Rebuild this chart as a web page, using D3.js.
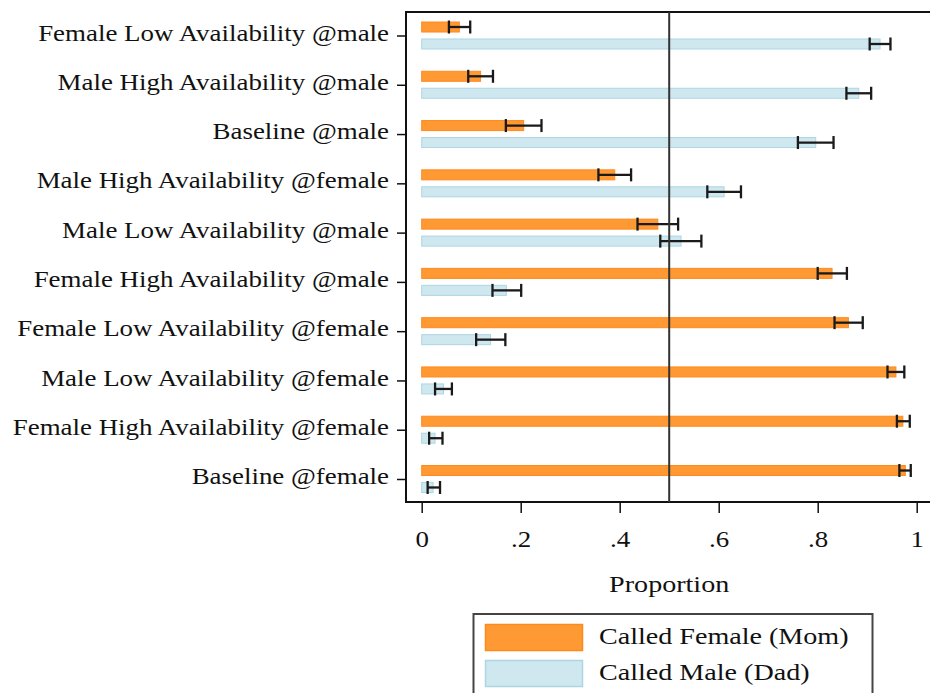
<!DOCTYPE html>
<html>
<head>
<meta charset="utf-8">
<script src="https://cdn.jsdelivr.net/npm/d3@7"></script>
<style>
  html, body { margin: 0; padding: 0; background: #fff; }
  svg { display: block; }
  text { font-family: "Liberation Serif", "DejaVu Serif", serif; fill: #111; }
</style>
</head>
<body>
<svg id="chart" width="930" height="693"></svg>
<script>
// Conditions, top to bottom
const categories = [
  "Female Low Availability @male",
  "Male High Availability @male",
  "Baseline @male",
  "Male High Availability @female",
  "Male Low Availability @male",
  "Female High Availability @male",
  "Female Low Availability @female",
  "Male Low Availability @female",
  "Female High Availability @female",
  "Baseline @female"
];

// Share calling the female parent (Mom), with 95% CI
const momValue = [0.076, 0.119, 0.206, 0.390, 0.477, 0.829, 0.862, 0.958, 0.972, 0.977];
const momLow   = [0.055, 0.094, 0.170, 0.357, 0.436, 0.800, 0.834, 0.941, 0.960, 0.965];
const momHigh  = [0.098, 0.144, 0.242, 0.423, 0.518, 0.859, 0.891, 0.975, 0.986, 0.988];

// Share calling the male parent (Dad), with 95% CI
const dadValue = [0.926, 0.883, 0.796, 0.611, 0.524, 0.171, 0.139, 0.044, 0.027, 0.023];
const dadLow   = [0.905, 0.858, 0.760, 0.577, 0.482, 0.143, 0.110, 0.027, 0.015, 0.012];
const dadHigh  = [0.947, 0.908, 0.832, 0.645, 0.565, 0.201, 0.169, 0.061, 0.042, 0.037];

const xTicks = [0, 0.2, 0.4, 0.6, 0.8, 1];
const xTickLabels = ["0", ".2", ".4", ".6", ".8", "1"];
const referenceLine = 0.5;

const seriesKeys = ["mom", "dad"];
const seriesNames = ["Called Female (Mom)", "Called Male (Dad)"];
const seriesFill = { mom: "#ff9933", dad: "#cfe7ef" };
const seriesStroke = { mom: "#ff8a1c", dad: "#acd6e3" };

// Widen the serif glyphs a little for a rounder, book-like face
const textStretch = 1.17;
function widen(sel) {
  sel.each(function () {
    const w = this.getComputedTextLength();
    d3.select(this)
      .attr("textLength", w * textStretch)
      .attr("lengthAdjust", "spacingAndGlyphs");
  });
}

const svg = d3.select("#chart");

const frame = { left: 406, top: 12, right: 940, bottom: 502 };

const x = d3.scaleLinear().domain([0, 1]).range([421.7, 916.7]);
const y = d3.scalePoint().domain(categories).range([35.5, 479]);
const sub = d3.scaleBand().domain(seriesKeys).range([-13.5, 13.5]).paddingInner(0.41);

const rows = categories.map((c, i) => ({
  cat: c,
  series: [
    { key: "mom", v: momValue[i], lo: momLow[i], hi: momHigh[i] },
    { key: "dad", v: dadValue[i], lo: dadLow[i], hi: dadHigh[i] }
  ]
}));

// Plot frame
svg.append("rect")
  .attr("x", frame.left).attr("y", frame.top)
  .attr("width", frame.right - frame.left).attr("height", frame.bottom - frame.top)
  .attr("fill", "none").attr("stroke", "#111").attr("stroke-width", 2);

// Bars
const groups = svg.append("g").selectAll("g.row")
  .data(rows).join("g")
  .attr("class", "row")
  .attr("transform", d => `translate(0,${y(d.cat)})`);

groups.selectAll("rect.bar")
  .data(d => d.series).join("rect")
  .attr("class", "bar")
  .attr("x", x(0))
  .attr("y", d => sub(d.key))
  .attr("width", d => x(d.v) - x(0))
  .attr("height", sub.bandwidth())
  .attr("fill", d => seriesFill[d.key])
  .attr("stroke", d => seriesStroke[d.key])
  .attr("stroke-width", 1);

// Reference line at one half
svg.append("line")
  .attr("x1", x(referenceLine)).attr("x2", x(referenceLine))
  .attr("y1", frame.top).attr("y2", frame.bottom)
  .attr("stroke", "#333").attr("stroke-width", 2);

// Confidence intervals
const ci = groups.selectAll("g.ci")
  .data(d => d.series).join("g")
  .attr("class", "ci")
  .attr("transform", d => `translate(0,${sub(d.key) + sub.bandwidth() / 2})`)
  .attr("stroke", "#1a1a1a").attr("stroke-width", 2.3);

ci.append("line")
  .attr("x1", d => x(d.lo)).attr("x2", d => x(d.hi))
  .attr("y1", 0).attr("y2", 0);
ci.append("line")
  .attr("x1", d => x(d.lo)).attr("x2", d => x(d.lo))
  .attr("y1", -6.5).attr("y2", 6.5);
ci.append("line")
  .attr("x1", d => x(d.hi)).attr("x2", d => x(d.hi))
  .attr("y1", -6.5).attr("y2", 6.5);

// Category axis
const yAxis = svg.append("g")
  .attr("transform", `translate(${frame.left},0)`)
  .call(d3.axisLeft(y).tickSize(9).tickPadding(8));
yAxis.select(".domain").remove();
yAxis.selectAll(".tick line").attr("stroke", "#111").attr("stroke-width", 1.5);
yAxis.selectAll(".tick text")
  .attr("font-size", 23)
  .attr("dy", "0.2em")
  .attr("fill", "#111")
  .call(widen);

// Value axis
const xAxis = svg.append("g")
  .attr("transform", `translate(0,${frame.bottom})`)
  .call(d3.axisBottom(x).tickValues(xTicks)
    .tickFormat((d, i) => xTickLabels[i]).tickSize(11).tickPadding(18));
xAxis.select(".domain").remove();
xAxis.selectAll(".tick line").attr("stroke", "#111").attr("stroke-width", 1.5);
xAxis.selectAll(".tick text").attr("font-size", 23).attr("fill", "#111").call(widen);

svg.append("text")
  .attr("x", x(0.5)).attr("y", 592)
  .attr("text-anchor", "middle")
  .attr("font-size", 24)
  .text("Proportion")
  .call(widen);

// Legend
const legend = svg.append("g");
legend.append("rect")
  .attr("x", 473.5).attr("y", 614)
  .attr("width", 399).attr("height", 100)
  .attr("fill", "#fff").attr("stroke", "#444").attr("stroke-width", 2);

const items = legend.selectAll("g.item")
  .data(seriesKeys).join("g")
  .attr("class", "item")
  .attr("transform", (d, i) => `translate(0,${624.5 + i * 36})`);
items.append("rect")
  .attr("x", 485.5).attr("y", 0)
  .attr("width", 97).attr("height", 26)
  .attr("fill", d => seriesFill[d])
  .attr("stroke", d => seriesStroke[d]).attr("stroke-width", 1.5);
items.append("text")
  .attr("x", 599).attr("y", 19)
  .attr("font-size", 24)
  .text((d, i) => seriesNames[i])
  .call(widen);
</script>
</body>
</html>
